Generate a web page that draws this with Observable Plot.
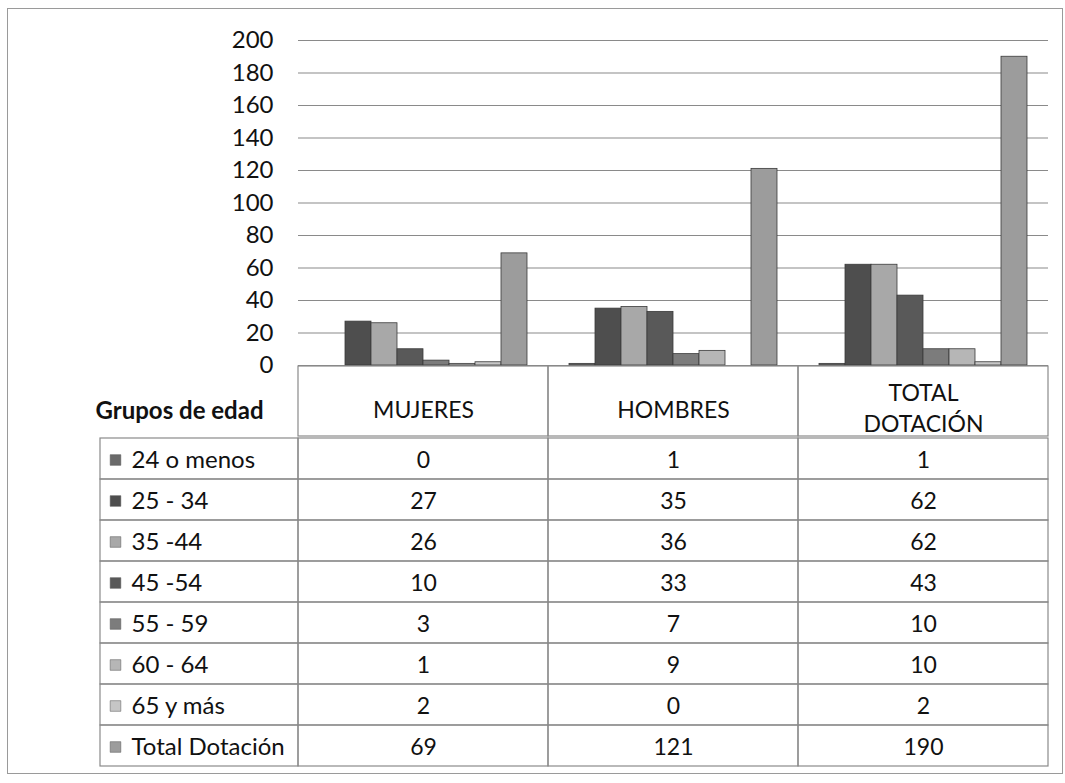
<!DOCTYPE html>
<html>
<head>
<meta charset="utf-8">
<script src="https://cdn.jsdelivr.net/npm/d3@7"></script>
<script src="https://cdn.jsdelivr.net/npm/@observablehq/plot@0.6"></script>
<style>
  html, body { margin: 0; padding: 0; background: #fff; }
  #wrap { position: relative; width: 1065px; height: 783px; overflow: hidden; }
  #wrap svg { display: block; overflow: visible; position: relative; }
  #frame { position: absolute; left: 7px; top: 8px; width: 1054px; height: 764px; border: 1.5px solid #9a9a9a; pointer-events: none; }
</style>
</head>
<body>
<div id="wrap"><div id="frame"></div></div>
<script>
// ---- data ----
const categories = ["MUJERES", "HOMBRES", "TOTAL DOTACIÓN"];
const headerSingle = ["MUJERES", "HOMBRES"];
const headerDouble = ["TOTAL DOTACIÓN"];
const headerDoubleText = ["TOTAL\nDOTACIÓN"];
const groups = ["24 o menos", "25 - 34", "35 -44", "45 -54", "55 - 59", "60 - 64", "65 y más", "Total Dotación"];
const mujeres = [0, 27, 26, 10, 3, 1, 2, 69];
const hombres = [1, 35, 36, 33, 7, 9, 0, 121];
const totalDotacion = [1, 62, 62, 43, 10, 10, 2, 190];
const yTicks = [0, 20, 40, 60, 80, 100, 120, 140, 160, 180, 200];
const groupColors = ["#6a6a6a", "#4e4e4e", "#a8a8a8", "#595959", "#7c7c7c", "#b6b6b6", "#c6c6c6", "#9c9c9c"];
const tableTitle = "Grupos de edad";

const seriesByCat = [mujeres, hombres, totalDotacion];
const rows = [];
categories.forEach((c, ci) => groups.forEach((g, gi) => rows.push({cat: c, group: g, value: seriesByCat[ci][gi]})));

const FONT = "Lato, 'Open Sans', sans-serif";
const gridColor = "#8a8a8a";
const wrap = document.getElementById("wrap");

// ---- chart ----
const chart = Plot.plot({
  width: 1065, height: 366,
  marginLeft: 297, marginRight: 16, marginTop: 40, marginBottom: 1,
  style: {fontFamily: FONT, fontSize: "24px", color: "#111", background: "transparent", overflow: "visible"},
  fx: {domain: categories, padding: 0, axis: null, label: null},
  x: {domain: groups, paddingInner: 0, paddingOuter: 0.8, axis: null},
  y: {domain: [0, 200], axis: null},
  color: {domain: groups, range: groupColors},
  marks: [
    Plot.gridY(yTicks, {stroke: gridColor, strokeOpacity: 1, strokeWidth: 1.2}),
    Plot.barY(rows, {fx: "cat", x: "group", y: "value", fill: "group", stroke: "#3a3a3a", strokeWidth: 0.8}),
    Plot.axisY(yTicks, {tickSize: 0, tickPadding: 25, fontSize: 24, line: true, stroke: gridColor, label: null, fill: "#111"})
  ]
});
wrap.appendChild(chart);

// ---- header row ----
const cols = [tableTitle, ...categories];
const header = Plot.plot({
  width: 1065, height: 70,
  marginLeft: 46, marginRight: 16, marginTop: 0, marginBottom: 0,
  style: {fontFamily: FONT, fontSize: "22px", color: "#111", background: "transparent"},
  x: {domain: cols, padding: 0, axis: null},
  marks: [
    Plot.cell(categories, {x: d => d, fill: "none", stroke: gridColor, strokeWidth: 1.2}),
    Plot.text(headerSingle, {x: d => d, text: d => d, fontSize: 23, dy: 9, fill: "#111"}),
    Plot.text(headerDouble, {x: d => d, text: (d, i) => headerDoubleText[i], fontSize: 23, lineHeight: 1.35, dy: 5, fill: "#111"}),
    Plot.text([tableTitle], {x: d => d, text: d => d, fontSize: 24, fontWeight: "bold", dx: 6, dy: 10, fill: "#111"})
  ]
});
wrap.appendChild(header);

// ---- table ----
const cellRows = [];
groups.forEach((g, gi) => categories.forEach((c, ci) => cellRows.push({group: g, cat: c, value: seriesByCat[ci][gi]})));
const table = Plot.plot({
  width: 1065, height: 347,
  marginLeft: 46, marginRight: 16, marginTop: 0, marginBottom: 16,
  style: {fontFamily: FONT, fontSize: "22px", color: "#111", background: "transparent"},
  x: {domain: cols, padding: 0, axis: null},
  y: {domain: groups, padding: 0, axis: null},
  color: {domain: groups, range: groupColors},
  marks: [
    Plot.cell(cellRows, {x: "cat", y: "group", fill: "none", stroke: gridColor, strokeWidth: 1.2}),
    Plot.cell(groups, {x: () => tableTitle, y: d => d, fill: "none", stroke: gridColor, strokeWidth: 1.2, insetLeft: 52}),
    Plot.dot(groups, {x: () => tableTitle, y: d => d, symbol: "square", r: 6, fill: d => d, stroke: "#555", strokeWidth: 0.5, dx: -58, dy: 1}),
    Plot.text(groups, {x: () => tableTitle, y: d => d, text: d => d, textAnchor: "start", dx: -42, dy: 1, fontSize: 24, fill: "#111"}),
    Plot.text(cellRows, {x: "cat", y: "group", text: d => String(d.value), fontSize: 23, dy: 2, fill: "#111"})
  ]
});
wrap.appendChild(table);
</script>
</body>
</html>
